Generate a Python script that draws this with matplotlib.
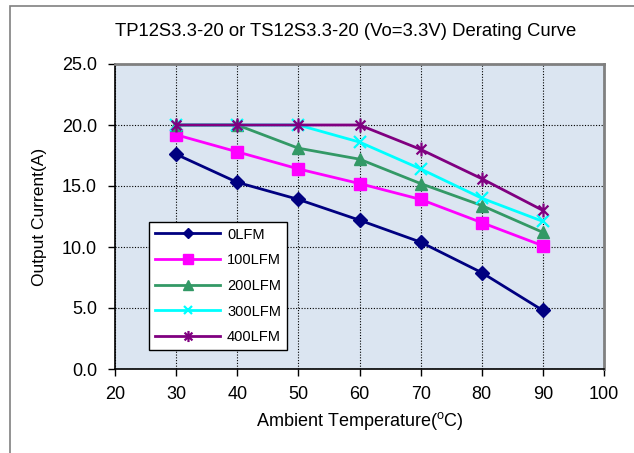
import matplotlib
matplotlib.use("Agg")
import matplotlib.pyplot as plt
from matplotlib.path import Path
from matplotlib.patches import Rectangle

plt.rcParams['font.family'] = ['Liberation Sans', 'DejaVu Sans']
plt.rcParams['mathtext.fontset'] = 'custom'
plt.rcParams['mathtext.rm'] = 'Liberation Sans'

# Derating data: ambient temperature (°C) vs. output current (A) per airflow
temps = [30, 40, 50, 60, 70, 80, 90]
lfm_0 = [17.6, 15.3, 13.9, 12.2, 10.4, 7.9, 4.8]
lfm_100 = [19.2, 17.8, 16.4, 15.2, 13.9, 12.0, 10.1]
lfm_200 = [20.0, 20.0, 18.1, 17.2, 15.2, 13.4, 11.2]
lfm_300 = [20.0, 20.0, 20.0, 18.6, 16.4, 14.0, 12.1]
lfm_400 = [20.0, 20.0, 20.0, 20.0, 18.0, 15.6, 13.0]
series_labels = ['0LFM', '100LFM', '200LFM', '300LFM', '400LFM']

x_ticks = [20, 30, 40, 50, 60, 70, 80, 90, 100]
y_ticks = [0, 5, 10, 15, 20, 25]

# asterisk marker: an "x" plus a vertical stroke
s = 0.7071
star = Path([(-s, -s), (s, s), (-s, s), (s, -s), (0, -1), (0, 1)],
            [Path.MOVETO, Path.LINETO, Path.MOVETO, Path.LINETO,
             Path.MOVETO, Path.LINETO])

styles = [
    dict(color='#000080', marker='D', markersize=7),
    dict(color='#FF00FF', marker='s', markersize=9),
    dict(color='#339966', marker='^', markersize=9),
    dict(color='#00FFFF', marker='x', markersize=8, markeredgewidth=1.6),
    dict(color='#800080', marker=star, markersize=10, markeredgewidth=1.6,
         markerfacecolor='none'),
]

W, H = 634, 453
fig = plt.figure(figsize=(W / 100, H / 100), dpi=100)

# outer chart frame
fig.patches.append(Rectangle((9.5 / W, -0.2), 1.2, 1.2 - 5.5 / H,
                             transform=fig.transFigure, fill=False,
                             edgecolor='#808080', linewidth=1.2))

ax = fig.add_axes([115 / W, 1 - 369 / H, (604 - 115) / W, (369 - 64) / H])
ax.set_facecolor('#DBE5F1')

for ys, lab, st in zip([lfm_0, lfm_100, lfm_200, lfm_300, lfm_400],
                       series_labels, styles):
    ax.plot(temps, ys, label=lab, linewidth=2, zorder=3, **st)

ax.set_xlim(20, 100)
ax.set_ylim(0, 25)
ax.set_xticks(x_ticks)
ax.set_yticks(y_ticks)
ax.set_yticklabels([f'{v:.1f}' for v in y_ticks])
ax.tick_params(direction='out', length=5, width=1, labelsize=13,
               colors='black')
ax.tick_params(axis='y', pad=8)
ax.tick_params(axis='x', pad=7)
ax.grid(True, color='black', linestyle=(0, (1, 1.5)), linewidth=0.8)
ax.set_axisbelow(True)

for side in ('left', 'bottom'):
    ax.spines[side].set_color('black')
    ax.spines[side].set_linewidth(1.2)
for side in ('top', 'right'):
    ax.spines[side].set_color('#808080')
    ax.spines[side].set_linewidth(2)

ax.set_xlabel('Ambient Temperature($^{\\rm o}$C)', fontsize=13, labelpad=5)
ax.set_ylabel('Output Current(A)', fontsize=12.5, labelpad=11)

fig.text(346 / W, 1 - 32 / H,
         'TP12S3.3-20 or TS12S3.3-20 (Vo=3.3V) Derating Curve',
         ha='center', va='center', fontsize=13.3)

leg = ax.legend(loc='lower left', bbox_to_anchor=(34 / 489, 19 / 305),
                borderaxespad=0, fancybox=False, edgecolor='black',
                framealpha=1, fontsize=10.5, handlelength=4.5,
                handletextpad=0.45, labelspacing=0.8, borderpad=0.4,
                markerscale=0.8)
leg.get_frame().set_linewidth(1)

fig.savefig('out.png', dpi=100)
